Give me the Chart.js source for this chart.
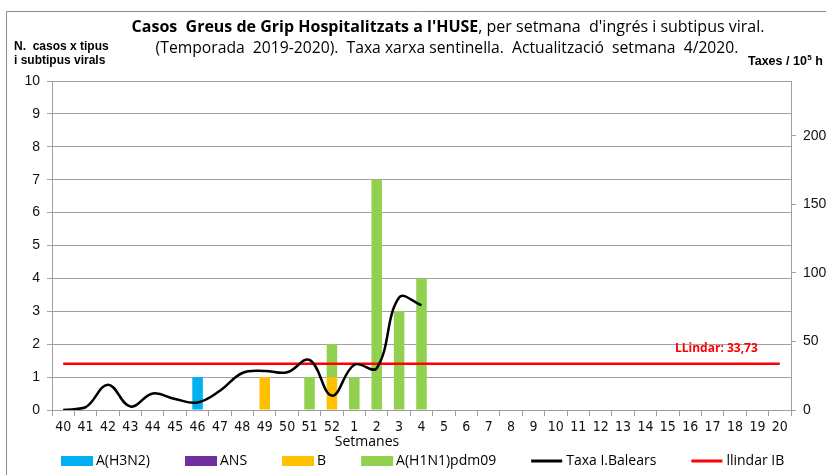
<!DOCTYPE html>
<html>
<head>
<meta charset="utf-8">
<title>Casos greus de grip HUSE</title>
<script src="https://cdn.jsdelivr.net/npm/chart.js"></script>
<style>
    body { margin: 0; padding: 0; background: #fff; }
    #wrap { position: absolute; left: 0; top: 0; width: 826px; height: 475px; }
</style>
</head>
<body>
<div id="wrap"><canvas id="grip" width="826" height="475"></canvas></div>
<script>
    // Setmanes de la temporada 2019-2020
    var setmanes = ['40','41','42','43','44','45','46','47','48','49','50','51','52',
                    '1','2','3','4','5','6','7','8','9','10','11','12','13','14','15','16','17','18','19','20'];

    // Casos per subtipus (setmanes 40 a 4)
    var h3n2   = [0, 0, 0, 0, 0, 0, 1, 0, 0, 0, 0, 0, 0, 0, 0, 0, 0];
    var ans    = [0, 0, 0, 0, 0, 0, 0, 0, 0, 0, 0, 0, 0, 0, 0, 0, 0];
    var virusB = [0, 0, 0, 0, 0, 0, 0, 0, 0, 1, 0, 0, 1, 0, 0, 0, 0];
    var h1n1   = [0, 0, 0, 0, 0, 0, 0, 0, 0, 0, 0, 1, 1, 1, 7, 3, 4];

    // Taxa xarxa sentinella I.Balears (per 10^5 h)
    var taxaIB = [0, 2, 18.5, 2.5, 12, 8, 5.5, 14, 27, 28.5, 27.5, 36.5, 10.5, 33, 30.5, 82, 76.5];
    var llindar = 33.73;

    var fontArial  = "'Liberation Sans', Arial, sans-serif";
    var fontNarrow = "'Liberation Sans Narrow', 'DejaVu Sans Condensed', sans-serif";
    var fontUI     = "'Open Sans', sans-serif";
    var gris = '#A0A0A0';

    var rotuls = {
        id: 'rotuls',
        afterDraw: function(chart) {
            var ctx = chart.ctx;
            ctx.save();

            // marc exterior
            ctx.strokeStyle = '#8c8c8c';
            ctx.lineWidth = 1;
            ctx.beginPath();
            ctx.moveTo(6.5, 475);
            ctx.lineTo(6.5, 11.5);
            ctx.lineTo(826, 11.5);
            ctx.stroke();

            // títol (part en negreta + part normal)
            ctx.fillStyle = '#000';
            ctx.textBaseline = 'middle';
            ctx.textAlign = 'left';
            var t1a = "Casos  Greus de Grip Hospitalitzats a l'HUSE";
            var t1b = ", per setmana  d'ingrés i subtipus viral.";
            ctx.font = "bold 16px " + fontUI;
            var wa = ctx.measureText(t1a).width;
            ctx.font = "16px " + fontUI;
            var wb = ctx.measureText(t1b).width;
            var x0 = 448 - (wa + wb) / 2;
            ctx.font = "bold 16px " + fontUI;
            ctx.fillText(t1a, x0, 27);
            ctx.font = "16px " + fontUI;
            ctx.fillText(t1b, x0 + wa, 27);
            ctx.textAlign = 'center';
            ctx.font = "15.7px " + fontUI;
            ctx.fillText("(Temporada  2019-2020).  Taxa xarxa sentinella.  Actualització  setmana  4/2020.", 447, 49);

            // títols dels eixos
            ctx.textAlign = 'left';
            ctx.font = "bold 12px " + fontArial;
            ctx.fillText("N.  casos x tipus", 14, 47);
            ctx.fillText("i subtipus virals", 14, 61);
            ctx.font = "bold 12.5px " + fontArial;
            var tx = "Taxes / 10";
            ctx.fillText(tx, 748, 62);
            var wt = ctx.measureText(tx).width;
            ctx.font = "bold 8px " + fontArial;
            ctx.fillText("5", 748 + wt + 0.5, 58);
            ctx.font = "bold 12.5px " + fontArial;
            ctx.fillText(" h", 748 + wt + 5, 62);

            ctx.font = "14px " + fontUI;
            ctx.textAlign = 'center';
            ctx.fillText("Setmanes", 367, 442);

            // etiqueta del llindar
            var pts = chart.getDatasetMeta(5).data;
            var ult = pts[pts.length - 1];
            ctx.fillStyle = '#FF0000';
            ctx.textAlign = 'right';
            ctx.font = "bold 12px " + fontUI;
            ctx.fillText("LLindar: " + llindar.toFixed(2).replace('.', ','), ult.x - 22, ult.y - 15);

            // llegenda
            var x = 61, y = 461;
            ctx.textAlign = 'left';
            ctx.font = "14px " + fontUI;
            chart.data.datasets.forEach(function(ds) {
                if (ds.type === 'line') {
                    ctx.strokeStyle = ds.borderColor;
                    ctx.lineWidth = 3;
                    ctx.beginPath();
                    ctx.moveTo(x, y);
                    ctx.lineTo(x + 31, y);
                    ctx.stroke();
                } else {
                    ctx.fillStyle = ds.backgroundColor;
                    ctx.fillRect(x, y - 5, 32, 10);
                }
                ctx.fillStyle = '#000';
                ctx.fillText(ds.label, x + 35, y);
                x += 35 + ctx.measureText(ds.label).width + 35;
            });
            ctx.restore();
        }
    };

    var barres = { type: 'bar', yAxisID: 'y', order: 2, borderWidth: 0 };

    new Chart(document.getElementById('grip'), {
        type: 'bar',
        data: {
            labels: setmanes,
            datasets: [
                Object.assign({ label: 'A(H3N2)', data: h3n2, backgroundColor: '#00B0F0' }, barres),
                Object.assign({ label: 'ANS', data: ans, backgroundColor: '#7030A0' }, barres),
                Object.assign({ label: 'B', data: virusB, backgroundColor: '#FFC000' }, barres),
                Object.assign({ label: 'A(H1N1)pdm09', data: h1n1, backgroundColor: '#92D050' }, barres),
                {
                    type: 'line', label: 'Taxa I.Balears', data: taxaIB, yAxisID: 'y1', order: 1,
                    borderColor: '#000000', borderWidth: 2.5, pointRadius: 0, tension: 0.4, fill: false
                },
                {
                    type: 'line', label: 'llindar IB', yAxisID: 'y1', order: 1,
                    data: [{ x: setmanes[0], y: llindar }, { x: setmanes[setmanes.length - 1], y: llindar }],
                    borderColor: '#FF0000', borderWidth: 2.5, pointRadius: 0, tension: 0, fill: false
                }
            ]
        },
        options: {
            responsive: false,
            animation: false,
            layout: { padding: { top: 81, left: 0, right: 0, bottom: 0 } },
            plugins: { legend: { display: false }, tooltip: { enabled: false } },
            datasets: { bar: { barPercentage: 0.47, categoryPercentage: 1 } },
            scales: {
                x: {
                    stacked: true,
                    offset: true,
                    afterFit: function(s) { s.height = 65; },
                    grid: { offset: true, drawOnChartArea: false, drawTicks: true, tickLength: 6, color: gris },
                    border: { color: gris },
                    ticks: { autoSkip: false, maxRotation: 0, padding: 3, color: '#111', font: { family: fontNarrow, size: 14 } }
                },
                y: {
                    stacked: true,
                    position: 'left',
                    min: 0, max: 10,
                    afterFit: function(s) { s.width = 52; },
                    grid: { color: gris, tickLength: 5 },
                    border: { color: gris },
                    ticks: { stepSize: 1, padding: 7, color: '#111', font: { family: fontArial, size: 14 } }
                },
                y1: {
                    position: 'right',
                    min: 0, max: 240,
                    afterFit: function(s) { s.width = 35; },
                    grid: { drawOnChartArea: false, color: gris, tickLength: 5 },
                    border: { color: gris },
                    ticks: { stepSize: 50, includeBounds: false, padding: 7, color: '#111', font: { family: fontArial, size: 14 } }
                }
            }
        },
        plugins: [rotuls]
    });
</script>
</body>
</html>
